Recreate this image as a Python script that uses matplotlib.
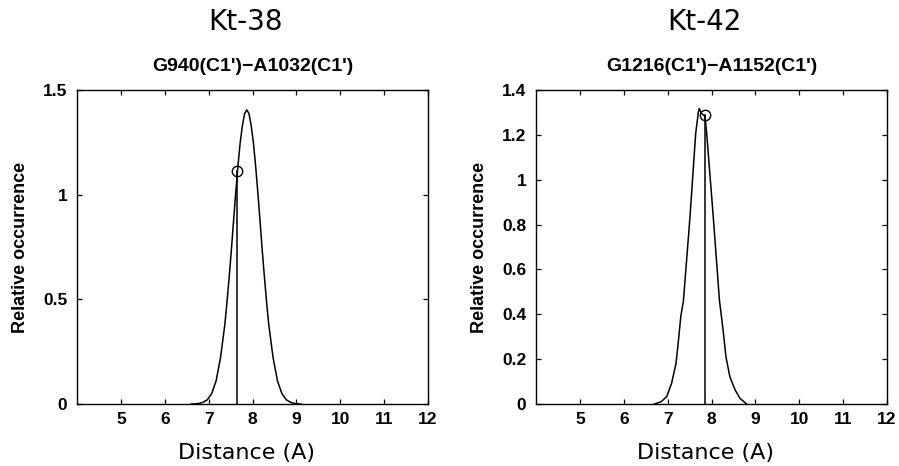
import matplotlib
matplotlib.use('Agg')
import matplotlib.pyplot as plt

# Kt-38 : G940(C1')-A1032(C1') distance distribution
kt38_x = [6.60, 6.77, 6.87, 6.97, 7.07, 7.17, 7.27, 7.37, 7.42, 7.47, 7.52, 7.57,
          7.62, 7.67, 7.72, 7.77, 7.82, 7.87, 7.92, 7.97, 8.02, 8.07, 8.12, 8.17,
          8.22, 8.27, 8.32, 8.37, 8.47, 8.57, 8.67, 8.77, 8.87, 8.97, 9.10]
kt38_y = [0.0, 0.002, 0.008, 0.02, 0.05, 0.11, 0.22, 0.38, 0.49, 0.61, 0.74, 0.88,
          1.015, 1.14, 1.25, 1.33, 1.387, 1.405, 1.387, 1.33, 1.25, 1.14, 1.015, 0.88,
          0.74, 0.61, 0.49, 0.38, 0.22, 0.11, 0.05, 0.02, 0.008, 0.002, 0.0]
kt38_ref = (7.65, 1.113)

# Kt-42 : G1216(C1')-A1152(C1') distance distribution
kt42_x = [6.70, 6.85, 6.98, 7.09, 7.19, 7.24, 7.30, 7.36, 7.51, 7.64, 7.70, 7.72,
          7.76, 7.80, 7.85, 7.89, 8.04, 8.18, 8.255, 8.33, 8.42, 8.54, 8.65, 8.80]
kt42_y = [0.0, 0.01, 0.033, 0.092, 0.18, 0.27, 0.39, 0.46, 0.835, 1.207, 1.30, 1.318,
          1.30, 1.29, 1.285, 1.207, 0.835, 0.464, 0.345, 0.21, 0.12, 0.062, 0.025, 0.0]
kt42_ref = (7.85, 1.288)

panels = [
    ('Kt-38', "G940(C1')\u2212A1032(C1')", kt38_x, kt38_y, kt38_ref, 1.5, [0, 0.5, 1, 1.5], ['0', '0.5', '1', '1.5']),
    ('Kt-42', "G1216(C1')\u2212A1152(C1')", kt42_x, kt42_y, kt42_ref, 1.4,
     [0, 0.2, 0.4, 0.6, 0.8, 1.0, 1.2, 1.4], ['0', '0.2', '0.4', '0.6', '0.8', '1', '1.2', '1.4']),
]

W, H = 899, 466
fig = plt.figure(figsize=(W / 100, H / 100), dpi=100, facecolor='white')
lefts = [77, 536]
bold = {'family': 'Liberation Sans', 'weight': 'bold'}

for left, (name, sub, xs, ys, ref, ymax, yt, ytl) in zip(lefts, panels):
    ax = fig.add_axes([left / W, (H - 404) / H, 351 / W, 314 / H])
    ax.plot(xs, ys, color='black', lw=1.1)
    ax.plot([ref[0], ref[0]], [0, ref[1]], color='black', lw=1.1)
    ax.plot(ref[0], ref[1], marker='o', ms=7.5, mfc='none', mec='black', mew=1.0)
    ax.set_xlim(4, 12)
    ax.set_ylim(0, ymax)
    ax.set_xticks(range(5, 13))
    ax.set_yticks(yt)
    ax.set_yticklabels(ytl)
    ax.tick_params(direction='in', top=True, right=True, length=3.5, width=0.9,
                   labelsize=12.5)
    ax.tick_params(axis='x', pad=6)
    ax.tick_params(axis='y', pad=7)
    for lab in ax.get_xticklabels() + ax.get_yticklabels():
        lab.set_fontfamily('Liberation Sans')
        lab.set_fontweight('bold')
    for s in ax.spines.values():
        s.set_linewidth(1.0)
    ax.set_xlabel('Distance (A)', fontsize=16, family='DejaVu Sans')
    ax.xaxis.set_label_coords(0.483, -0.156, transform=ax.transAxes)
    ax.xaxis.label.set_va('center')
    ax.set_ylabel('Relative occurrence', fontsize=13, labelpad=10, **bold)
    ax.text(0.5, 1.076, sub, transform=ax.transAxes, ha='center', va='center',
            fontsize=14, **bold)
    ax.text(0.48, 1.217, name, transform=ax.transAxes, ha='center', va='center',
            fontsize=20, family='DejaVu Sans')

fig.savefig('out.png', dpi=100)
